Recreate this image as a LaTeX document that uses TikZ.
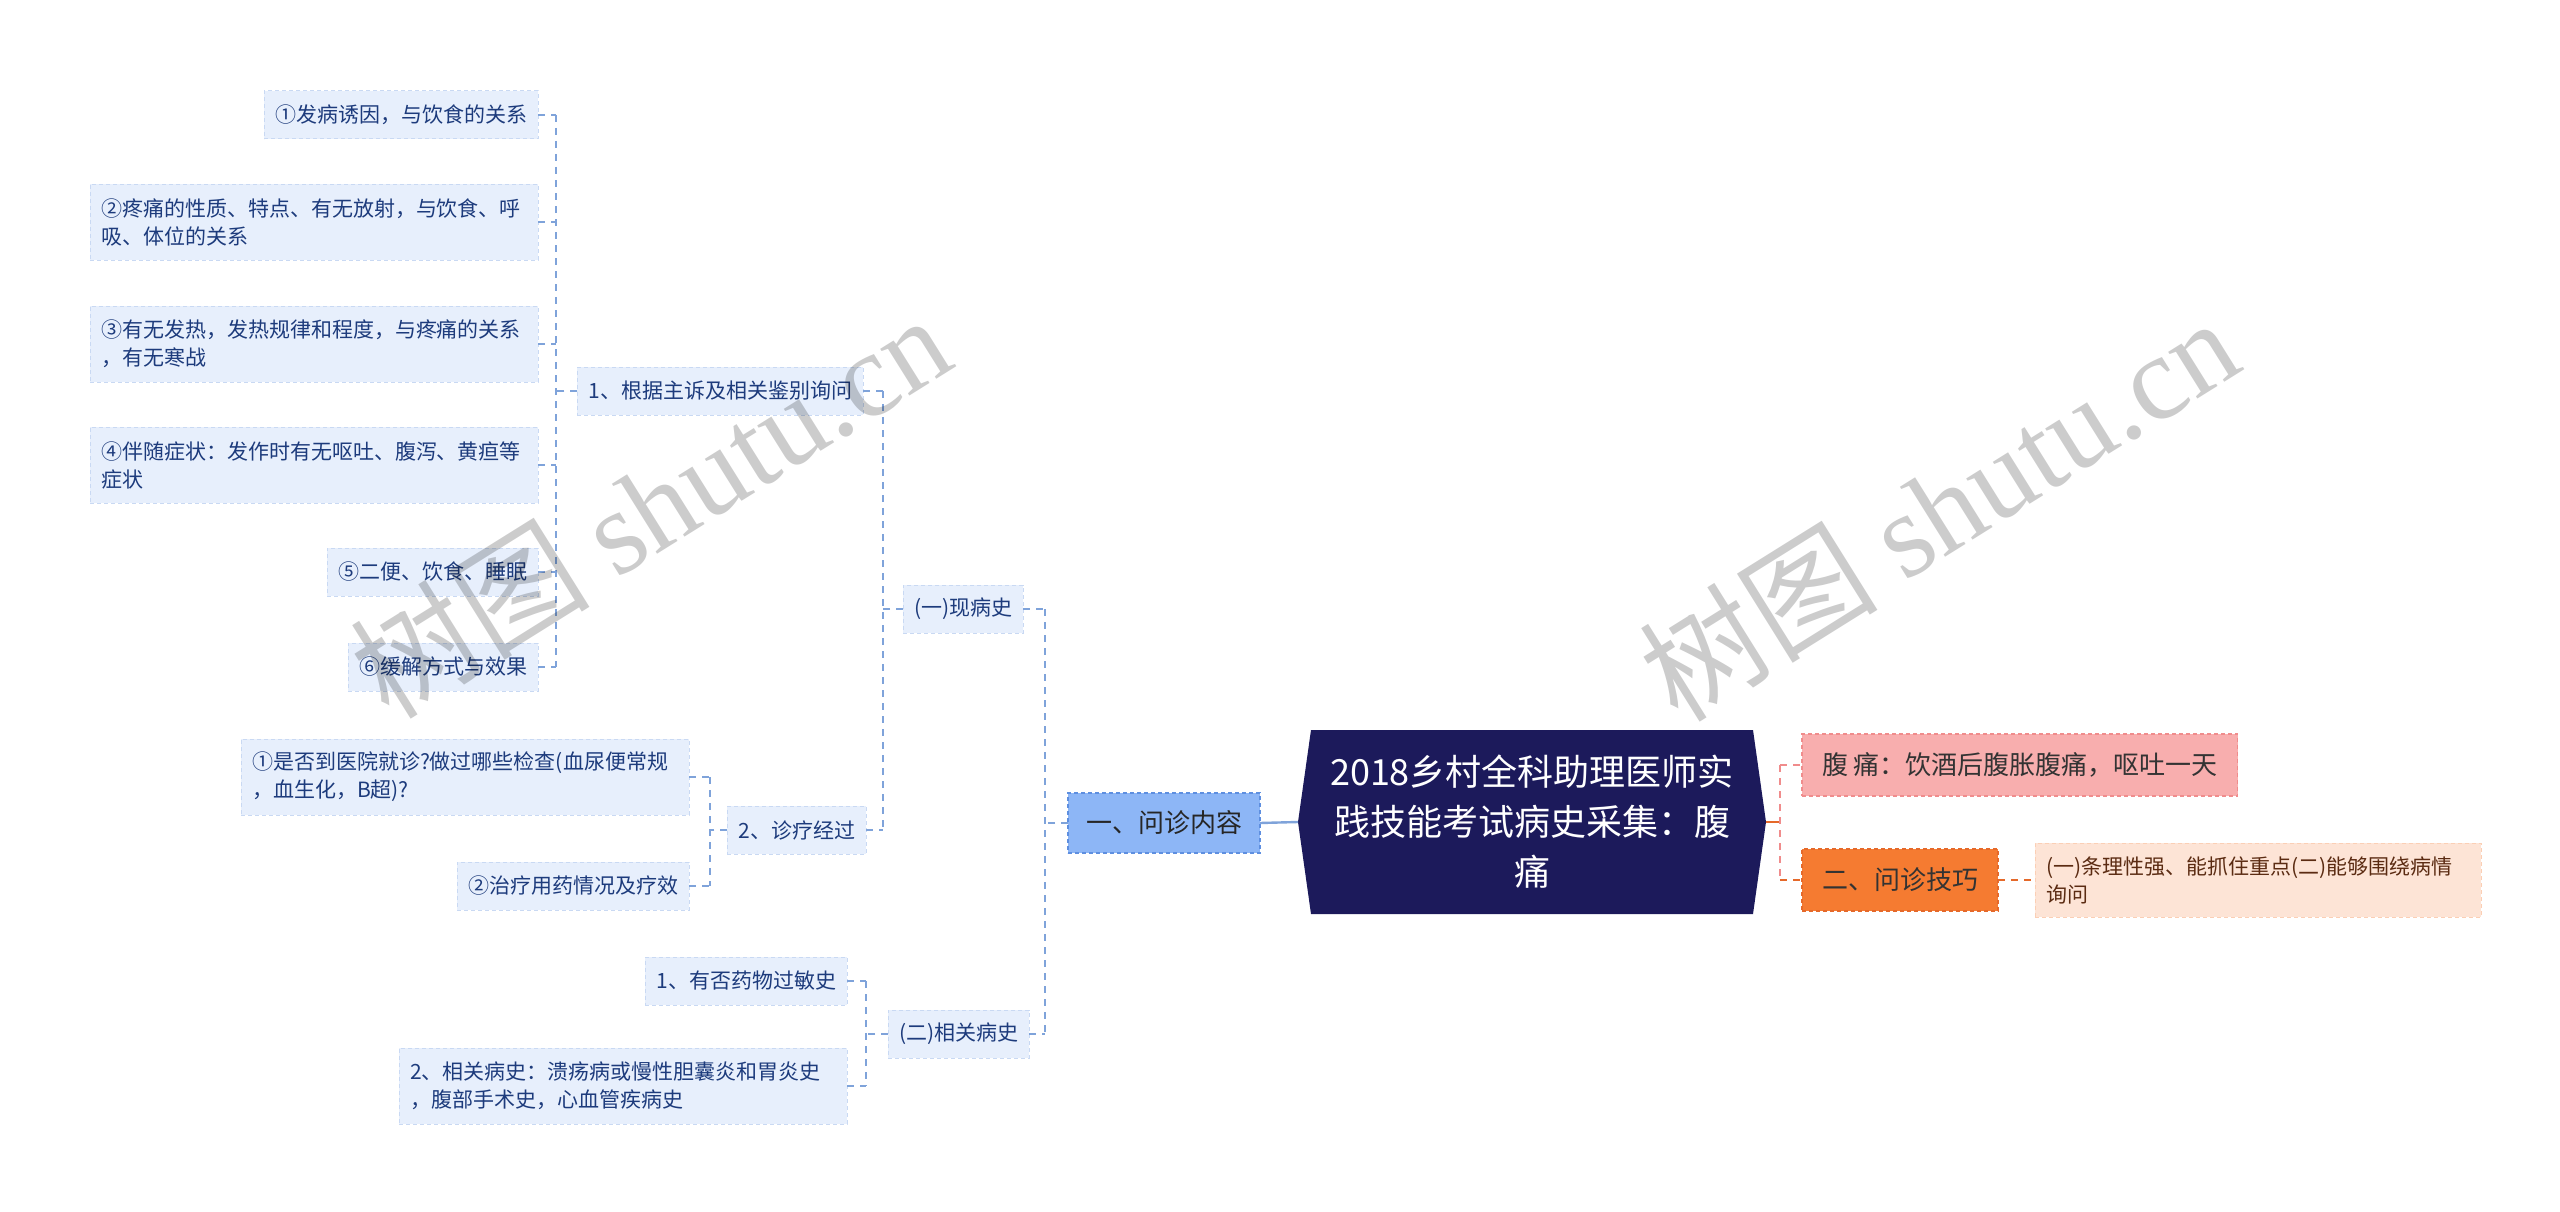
\documentclass[tikz,border=0pt]{standalone}
\usepackage{fontspec}
\setmainfont{Noto Sans CJK SC}
\newfontfamily\wmlatin{Liberation Serif}
\usetikzlibrary{calc,backgrounds}

\definecolor{boxblue}{HTML}{E7EFFC}
\definecolor{boxline}{HTML}{C9D9F3}
\definecolor{textblue}{HTML}{1D3B7C}
\definecolor{linkblue}{HTML}{7FA3DA}
\definecolor{topicblue}{HTML}{8DB6F6}
\definecolor{topicline}{HTML}{5E8FE0}
\definecolor{rootblue}{HTML}{1C1A5B}
\definecolor{pinkfill}{HTML}{F8AEAE}
\definecolor{pinkline}{HTML}{F08C8C}
\definecolor{orangefill}{HTML}{F57B31}
\definecolor{orangeline}{HTML}{E5692A}
\definecolor{peachfill}{HTML}{FDE4D6}
\definecolor{browntext}{HTML}{5B2B12}

\begin{document}
\begin{tikzpicture}[x=1pt,y=-1pt,inner sep=0pt,outer sep=0pt,
    every node/.style={font=\fontsize{21}{28}\selectfont},
    box/.style={fill=boxblue,draw=boxline,line width=1pt,dash pattern=on 4pt off 3pt,
        text=textblue,inner xsep=11pt,inner ysep=8pt,minimum height=48pt},
    wide/.style={box,text width=426pt,align=left,minimum height=76pt},
    link/.style={draw=linkblue,line width=1.6pt,dash pattern=on 7pt off 6pt},
    topic/.style={fill=topicblue,draw=topicline,line width=1.2pt,dash pattern=on 4pt off 3pt,
        text=black!85,font=\fontsize{26}{32}\selectfont,inner xsep=18pt,minimum height=60pt},
    root/.style={text=white,font=\fontsize{36}{50}\selectfont,text width=440pt,align=center,
        inner xsep=14pt,minimum height=184pt},
    pinkbox/.style={fill=pinkfill,draw=pinkline,line width=1.2pt,dash pattern=on 4pt off 3pt,
        text=black!80,font=\fontsize{26}{32}\selectfont,inner xsep=20pt,minimum height=62pt},
    orangebox/.style={pinkbox,fill=orangefill,draw=orangeline},
    peachbox/.style={fill=peachfill,draw=peachfill!80!orangefill,line width=1pt,dash pattern=on 4pt off 3pt,
        text=browntext,text width=424pt,align=left,inner xsep=11pt,minimum height=74pt},
    pinklink/.style={draw=pinkline,line width=1.8pt,dash pattern=on 7pt off 6pt},
    orangelink/.style={draw=orangeline,line width=1.8pt,dash pattern=on 7pt off 6pt},
    watermark/.style={text=black,text opacity=0.2,rotate=32,font=\fontsize{120}{130}\selectfont}]

    \begin{pgfonlayer}{background}
    \fill[white] (0,0) rectangle (2560,1212);
    \end{pgfonlayer}
    \useasboundingbox (0,0) rectangle (2560,1212);

    % 1、根据主诉 leaves
    \node[box,anchor=east] (a1) at (538,115) {①发病诱因，与饮食的关系};
    \node[wide,anchor=east] (a2) at (538,222) {②疼痛的性质、特点、有无放射，与饮食、呼\\吸、体位的关系};
    \node[wide,anchor=east] (a3) at (538,344) {③有无发热，发热规律和程度，与疼痛的关系\\，有无寒战};
    \node[wide,anchor=east] (a4) at (538,465) {④伴随症状：发作时有无呕吐、腹泻、黄疸等\\症状};
    \node[box,anchor=east] (a5) at (538,572) {⑤二便、饮食、睡眠};
    \node[box,anchor=east] (a6) at (538,667) {⑥缓解方式与效果};

    \node[box,anchor=east] (b1) at (863,391) {1、根据主诉及相关鉴别询问};

    \coordinate (spineA) at (556,0);
    \foreach \n in {1,...,6}
        \draw[link] (a\n.east) -- (a\n.east -| spineA);
    \draw[link] (a1.east -| spineA) -- (a6.east -| spineA);
    \draw[link] (b1.west) -- (b1.west -| spineA);

    % 2、诊疗经过
    \node[box,anchor=east] (b2) at (866,830) {2、诊疗经过};
    \node[wide,anchor=east] (c1) at (689,777) {①是否到医院就诊?做过哪些检查(血尿便常规\\，血生化，B超)?};
    \node[box,anchor=east] (c2) at (689,886) {②治疗用药情况及疗效};

    \coordinate (spineC) at (710,0);
    \draw[link] (c1.east) -- (c1.east -| spineC);
    \draw[link] (c2.east) -- (c2.east -| spineC);
    \draw[link] (c1.east -| spineC) -- (c2.east -| spineC);
    \draw[link] (b2.west) -- (b2.west -| spineC);

    % (一)现病史
    \node[box,anchor=west] (s1) at (903,609) {(一)现病史};

    \coordinate (spineB) at (883,0);
    \draw[link] (b1.east) -- (b1.east -| spineB);
    \draw[link] (b2.east) -- (b2.east -| spineB);
    \draw[link] (b1.east -| spineB) -- (b2.east -| spineB);
    \draw[link] (s1.west) -- (s1.west -| spineB);

    % (二)相关病史
    \node[box,anchor=west] (s2) at (888,1034) {(二)相关病史};
    \node[box,anchor=east] (d1) at (847,981) {1、有否药物过敏史};
    \node[wide,anchor=east] (d2) at (847,1086) {2、相关病史：溃疡病或慢性胆囊炎和胃炎史\\，腹部手术史，心血管疾病史};

    \coordinate (spineD) at (866,0);
    \draw[link] (d1.east) -- (d1.east -| spineD);
    \draw[link] (d2.east) -- (d2.east -| spineD);
    \draw[link] (d1.east -| spineD) -- (d2.east -| spineD);
    \draw[link] (s2.west) -- (s2.west -| spineD);

    % 一、问诊内容
    \node[topic,anchor=west] (t1) at (1068,823) {一、问诊内容};

    \coordinate (spineE) at (1045,0);
    \draw[link] (s1.east) -- (s1.east -| spineE);
    \draw[link] (s2.east) -- (s2.east -| spineE);
    \draw[link] (s1.east -| spineE) -- (s2.east -| spineE);
    \draw[link] (t1.west) -- (t1.west -| spineE);

    % root
    \node[root] (root) at (1532,822)
    {2018乡村全科助理医师实\\践技能考试病史采集：腹\\痛};
    \begin{pgfonlayer}{background}
    \fill[rootblue] ($(root.north west)+(13,0)$) -- ($(root.north east)+(-13,0)$) -- (root.east)
        -- ($(root.south east)+(-13,0)$) -- ($(root.south west)+(13,0)$) -- (root.west) -- cycle;
    \end{pgfonlayer}
    \draw[draw=linkblue,line width=2.4pt] (t1.east) -- (root.west);

    % 二、问诊技巧 side
    \node[pinkbox,anchor=west] (r1) at (1802,765) {腹 痛：饮酒后腹胀腹痛，呕吐一天};
    \node[orangebox,anchor=west] (r2) at (1802,880) {二、问诊技巧};
    \node[peachbox,anchor=west] (r3) at (2035,880) {(一)条理性强、能抓住重点(二)能够围绕病情\\询问};

    \coordinate (spineR) at (1780,0);
    \draw[draw=orangeline,line width=2.4pt] (root.east) -- (root.east -| spineR);
    \draw[pinklink] (r1.west -| spineR) -- (r1.west);
    \draw[pinklink] (r1.west -| spineR) -- (r2.west -| spineR);
    \draw[orangelink] (r2.west -| spineR) -- (r2.west);
    \draw[orangelink] (r2.east) -- (r3.west);

    % watermarks
    \node[watermark] (wm1) at (650,505) {树图 {\wmlatin shutu.cn}};
    \node[watermark] (wm2) at (1938,508) {树图 {\wmlatin shutu.cn}};

\end{tikzpicture}
\end{document}
